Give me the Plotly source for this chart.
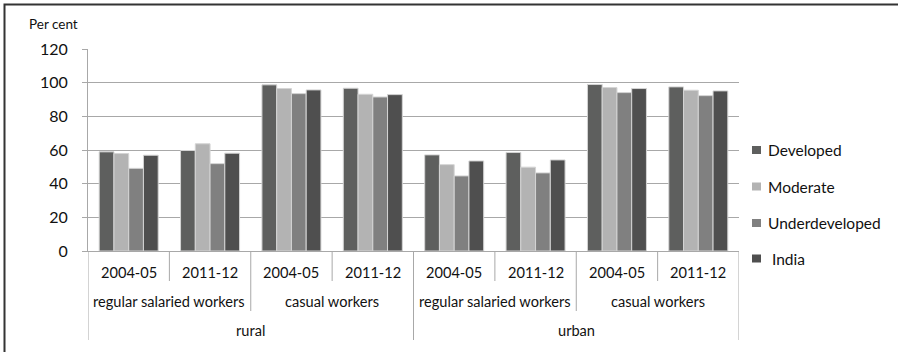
import plotly.graph_objects as go

# Category hierarchy along the x axis (innermost first)
years = ["2004-05", "2011-12", "2004-05", "2011-12", "2004-05", "2011-12", "2004-05", "2011-12"]
worker_types = ["regular salaried workers", "casual workers", "regular salaried workers", "casual workers"]
areas = ["rural", "urban"]

# Series
series_names = ["Developed", "Moderate", "Underdeveloped", "India"]
developed = [58.9, 59.7, 98.7, 96.7, 57.1, 58.5, 98.9, 97.5]
moderate = [57.9, 63.7, 96.5, 93.1, 51.3, 49.8, 97.1, 95.5]
underdeveloped = [49.1, 51.9, 93.5, 91.5, 44.6, 46.4, 94.1, 92.3]
india = [56.9, 58.1, 95.7, 92.9, 53.5, 54.1, 96.5, 95.1]

y_ticks = [0, 20, 40, 60, 80, 100, 120]

colors = ["#5e5f5e", "#b3b3b3", "#808080", "#4f4f4f"]
FONT = "Lato, 'Open Sans', sans-serif"
TEXT = "#111111"
AXIS_GREY = "#a8a8a8"

W, H = 898, 352
L, R, T, B = 88, 159, 49, 101
plot_w = W - L - R
plot_h = H - T - B


def px_to_paper_x(px):
    return (px - L) / plot_w


def py_to_paper_y(py):
    return (H - B - py) / plot_h


x_pos = list(range(len(years)))
fig = go.Figure()
for name, vals, col in zip(series_names, [developed, moderate, underdeveloped, india], colors):
    fig.add_trace(go.Bar(
        x=x_pos, y=vals, name=name,
        marker=dict(color=col, line=dict(color="#d4d4d4", width=1)),
        showlegend=False,
    ))

shapes = []
annotations = []

# Outer frame (top and left edges visible)
shapes.append(dict(type="rect", xref="paper", yref="paper",
                   x0=px_to_paper_x(4.5), x1=px_to_paper_x(W + 5),
                   y0=py_to_paper_y(H + 5), y1=py_to_paper_y(4.5),
                   line=dict(color="#333333", width=2), fillcolor="rgba(0,0,0,0)", layer="below"))

# Dividers for the three label rows
row1_bottom = py_to_paper_y(281)
row2_bottom = py_to_paper_y(311)
row3_bottom = py_to_paper_y(340)
n = len(years)
for b in range(n + 1):
    xb = b - 0.5
    if b % 4 == 0:
        y_end = row3_bottom
    elif b % 2 == 0:
        y_end = row2_bottom
    else:
        y_end = row1_bottom
    shapes.append(dict(type="line", xref="x", yref="paper", x0=xb, x1=xb, y0=0, y1=y_end,
                       line=dict(color=AXIS_GREY, width=1)))

# Row labels
LABEL_SIZE = 14.6
row1_y = py_to_paper_y(272)
row2_y = py_to_paper_y(301)
row3_y = py_to_paper_y(330)
for i, yr in enumerate(years):
    annotations.append(dict(x=i, y=row1_y, xref="x", yref="paper", text=yr, showarrow=False,
                            font=dict(size=LABEL_SIZE, color=TEXT, family=FONT), xanchor="center", yanchor="middle"))
for j, wt in enumerate(worker_types):
    annotations.append(dict(x=2 * j + 0.5, y=row2_y, xref="x", yref="paper", text=wt, showarrow=False,
                            font=dict(size=LABEL_SIZE, color=TEXT, family=FONT), xanchor="center", yanchor="middle"))
for k, ar in enumerate(areas):
    annotations.append(dict(x=4 * k + 1.5, y=row3_y, xref="x", yref="paper", text=ar, showarrow=False,
                            font=dict(size=LABEL_SIZE, color=TEXT, family=FONT), xanchor="center", yanchor="middle"))

# Axis title above the y axis
annotations.append(dict(x=px_to_paper_x(27), y=py_to_paper_y(24), xref="paper", yref="paper",
                        text="Per cent", showarrow=False, xanchor="left", yanchor="middle",
                        font=dict(size=13.5, color=TEXT, family=FONT)))

# Legend drawn as swatches + labels
legend_rows = [150, 186.5, 223, 258.5]
for name, col, py in zip(series_names, colors, legend_rows):
    shapes.append(dict(type="rect", xref="paper", yref="paper",
                       x0=px_to_paper_x(752), x1=px_to_paper_x(761),
                       y0=py_to_paper_y(py + 4), y1=py_to_paper_y(py - 4),
                       line=dict(width=0), fillcolor=col))
    tx = 770 if name == "India" else 766
    annotations.append(dict(x=px_to_paper_x(tx), y=py_to_paper_y(py), xref="paper", yref="paper",
                            text=name, showarrow=False, xanchor="left", yanchor="middle",
                            font=dict(size=15.5, color=TEXT, family=FONT)))

fig.update_layout(
    width=W, height=H,
    margin=dict(l=L, r=R, t=T, b=B, pad=0),
    paper_bgcolor="white", plot_bgcolor="white",
    barmode="group", bargap=0.275, bargroupgap=0,
    font=dict(family=FONT, color=TEXT),
    shapes=shapes, annotations=annotations,
    xaxis=dict(range=[-0.5, n - 0.5], showticklabels=False, showgrid=False, zeroline=False,
               showline=True, linecolor=AXIS_GREY, linewidth=1, ticks=""),
    yaxis=dict(range=[0, 120], tickvals=y_ticks, showgrid=True, gridcolor=AXIS_GREY, gridwidth=1,
               zeroline=False, showline=True, linecolor=AXIS_GREY, linewidth=1,
               ticks="outside", ticklen=5, tickcolor=AXIS_GREY, ticklabelstandoff=11,
               tickfont=dict(size=16, color=TEXT, family=FONT)),
)

fig.write_html("out.html")
